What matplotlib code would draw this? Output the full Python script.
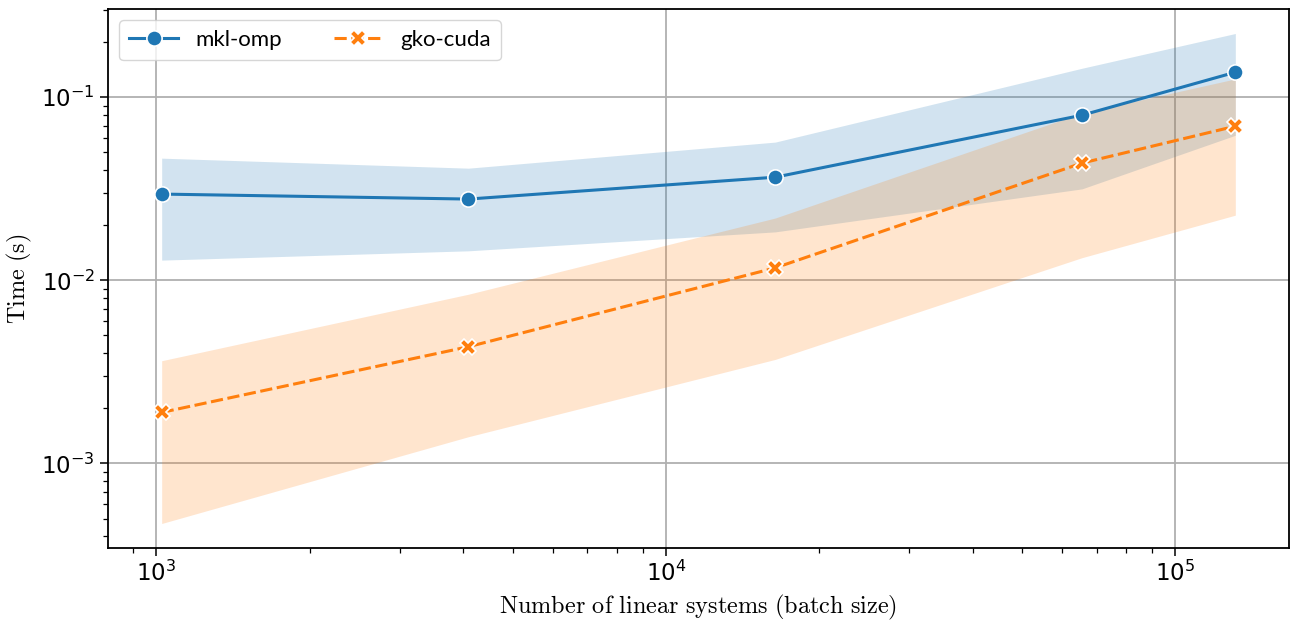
import matplotlib
matplotlib.use("Agg")
import matplotlib.pyplot as plt
import numpy as np

plt.rcParams['mathtext.fontset'] = 'cm'
plt.rcParams['axes.formatter.use_mathtext'] = True

batch = [1024, 4096, 16384, 65536, 131072]

mkl_mean = [0.0296, 0.0278, 0.0366, 0.0798, 0.137]
mkl_low = [0.0129, 0.0145, 0.0184, 0.0316, 0.062]
mkl_high = [0.0465, 0.041, 0.0569, 0.144, 0.223]

gko_mean = [0.0019, 0.00434, 0.0117, 0.0437, 0.0695]
gko_low = [0.00047, 0.0014, 0.0037, 0.0133, 0.0227]
gko_high = [0.00364, 0.0084, 0.0219, 0.082, 0.126]

labels = ['mkl-omp', 'gko-cuda']
blue = '#1f77b4'
orange = '#ff7f0e'

fig = plt.figure(figsize=(12.95, 6.21), dpi=100)
ax = fig.add_axes([108/1295, 1 - 548/621, (1289-108)/1295, (548-9)/621])

ax.fill_between(batch, mkl_low, mkl_high, color=blue, alpha=0.2, linewidth=0)
ax.fill_between(batch, gko_low, gko_high, color=orange, alpha=0.2, linewidth=0)
ax.plot(batch, mkl_mean, color=blue, lw=2.2, marker='o', ms=11,
        markeredgecolor='white', markeredgewidth=1.2, label=labels[0])
ax.plot(batch, gko_mean, color=orange, lw=2.2, marker='X', ms=11,
        markeredgecolor='white', markeredgewidth=1.2, dashes=(4, 1.5),
        label=labels[1])

ax.set_xscale('log')
ax.set_yscale('log')
ax.grid(True, which='major', color='#b0b0b0', lw=1.3)
ax.set_axisbelow(True)
for s in ax.spines.values():
    s.set_linewidth(1.3)
ax.tick_params(which='major', length=6, width=1.1, labelsize=16.5, direction='out')
ax.tick_params(which='minor', length=3.5, width=0.9)

ax.set_xlabel(r'$\mathrm{Number\ of\ linear\ systems\ (batch\ size)}$', fontsize=17.5, labelpad=5)
ax.set_ylabel(r'$\mathrm{Time\ (s)}$', fontsize=17.5, labelpad=5)

leg = ax.legend(loc='upper left', ncol=2, prop={'family': 'Lato', 'size': 16},
                frameon=True, fancybox=True, framealpha=0.8, edgecolor='#cccccc',
                handlelength=2.2, columnspacing=2.3, borderpad=0.45)

fig.savefig('out.png', dpi=100)
